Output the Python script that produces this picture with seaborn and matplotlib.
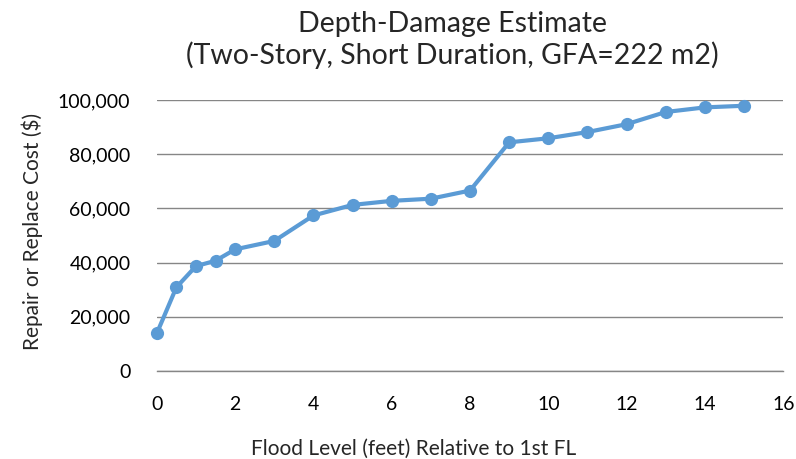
import matplotlib
matplotlib.use("Agg")
import matplotlib.pyplot as plt
import matplotlib.ticker as mticker
import seaborn as sns
import pandas as pd

# Flood depth above first floor (ft) and estimated repair/replacement cost ($)
flood_level = [0, 0.5, 1, 1.5, 2, 3, 4, 5, 6, 7, 8, 9, 10, 11, 12, 13, 14, 15]
cost = [13900, 30900, 38700, 40700, 44900, 48000, 57400, 61300, 62800, 63600,
        66600, 84400, 85900, 88200, 91100, 95600, 97300, 97900]

x_ticks = [0, 2, 4, 6, 8, 10, 12, 14, 16]
y_ticks = [0, 20000, 40000, 60000, 80000, 100000]

df = pd.DataFrame({"level": flood_level, "cost": cost})

sns.set_theme(style="white")
plt.rcParams["font.family"] = ["Lato", "DejaVu Sans"]

fig = plt.figure(figsize=(7.96, 4.59), dpi=100)
ax = fig.add_axes([0.197, 0.1917, 0.787, 0.5903])

sns.lineplot(data=df, x="level", y="cost", ax=ax, color="#5B9BD5",
             linewidth=3.0, marker="o", markersize=9.5, markeredgewidth=0,
             clip_on=False, zorder=3)

ax.set_xlim(0, 16)
ax.set_ylim(0, 100000)
ax.set_xticks(x_ticks)
ax.set_yticks(y_ticks)
ax.yaxis.set_major_formatter(mticker.FuncFormatter(lambda v, p: f"{int(v):,}"))
ax.grid(axis="y", color="#868686", linewidth=1.0)
ax.grid(axis="x", visible=False)
for s in ["top", "right", "left"]:
    ax.spines[s].set_visible(False)
ax.spines["bottom"].set_color("#868686")
ax.spines["bottom"].set_linewidth(1.0)
ax.tick_params(axis="both", labelsize=14, colors="black", length=0)
ax.tick_params(axis="x", pad=18)
ax.tick_params(axis="y", pad=19)

ax.set_xlabel("")
ax.set_ylabel("")
fig.text(0.52, 0.022, "Flood Level (feet) Relative to 1st FL",
         ha="center", va="center", fontsize=15)
fig.text(0.040, 0.495, "Repair or Replace Cost ($)", rotation=90,
         ha="center", va="center", fontsize=15)
fig.text(0.568, 0.913, "Depth-Damage Estimate\n(Two-Story, Short Duration, GFA=222 m2)",
         ha="center", va="center", fontsize=20.5, linespacing=1.2)

fig.savefig("out.png", dpi=100, facecolor="white")
